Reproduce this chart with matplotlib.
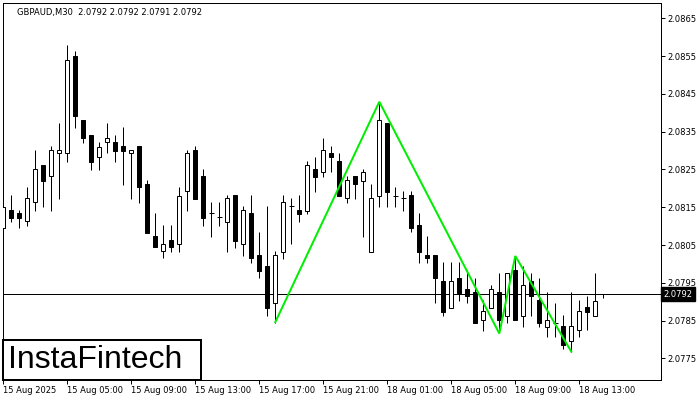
import matplotlib
matplotlib.use('Agg')
import matplotlib.pyplot as plt
from matplotlib.patches import Rectangle
import matplotlib.transforms as mtransforms

# ---------------- data ----------------
opens = [2.08094, 2.08143, 2.08134, 2.08113, 2.08163, 2.08262, 2.08232, 2.08293, 2.08293, 2.08550,
         2.08381, 2.08341, 2.08282, 2.08322, 2.08322, 2.08312, 2.08293, 2.08312, 2.08211, 2.08074,
         2.08034, 2.08062, 2.08054, 2.08192, 2.08301, 2.08233, 2.08134, 2.08123, 2.08112, 2.08182,
         2.08054, 2.08134, 2.08023, 2.07994, 2.07896, 2.08032, 2.08153, 2.08143, 2.08141, 2.08251,
         2.08242, 2.08293, 2.08272, 2.08174, 2.08233, 2.08220, 2.08032, 2.08180, 2.08372, 2.08181,
         2.08174, 2.08182, 2.08103, 2.08023, 2.08023, 2.07955, 2.07884, 2.07964, 2.07935, 2.07925,
         2.07853, 2.07884, 2.07925, 2.07863, 2.07984, 2.07863, 2.07955, 2.07904, 2.07834, 2.07845,
         2.07836, 2.07796, 2.07825, 2.07885, 2.07863, 2.0792]
highs = [2.08174, 2.08182, 2.08143, 2.08203, 2.08301, 2.08262, 2.08312, 2.08372, 2.08579, 2.08562,
         2.08381, 2.08341, 2.08323, 2.08372, 2.08341, 2.08362, 2.08301, 2.08312, 2.08222, 2.08134,
         2.08103, 2.08103, 2.08203, 2.08301, 2.08312, 2.08250, 2.08165, 2.08165, 2.08182, 2.08182,
         2.08153, 2.08182, 2.08085, 2.08153, 2.08034, 2.08182, 2.08174, 2.08182, 2.08272, 2.08282,
         2.08332, 2.08312, 2.08293, 2.08233, 2.08233, 2.08251, 2.08211, 2.08429, 2.08372, 2.08203,
         2.08193, 2.08193, 2.08134, 2.08074, 2.08023, 2.08004, 2.08004, 2.08004, 2.07984, 2.07964,
         2.07904, 2.07944, 2.07975, 2.07975, 2.08022, 2.07994, 2.07975, 2.07964, 2.07925, 2.07896,
         2.07865, 2.07925, 2.07904, 2.07915, 2.07975, 2.0792]
lows = [2.08072, 2.08112, 2.08094, 2.08101, 2.08141, 2.08151, 2.08141, 2.08172, 2.08270, 2.08360,
        2.08321, 2.08248, 2.08248, 2.08293, 2.08270, 2.08209, 2.08172, 2.08162, 2.08083, 2.08044,
        2.08015, 2.08032, 2.08032, 2.08141, 2.08172, 2.08101, 2.08072, 2.08101, 2.08032, 2.08043,
        2.08022, 2.08003, 2.07963, 2.07862, 2.07845, 2.08013, 2.08053, 2.08112, 2.08132, 2.08191,
        2.08231, 2.08242, 2.08180, 2.08162, 2.08172, 2.08072, 2.08032, 2.08151, 2.08151, 2.08151,
        2.08141, 2.08084, 2.08003, 2.08003, 2.07896, 2.07863, 2.07884, 2.07902, 2.07896, 2.07845,
        2.07823, 2.07884, 2.07823, 2.07845, 2.07853, 2.07834, 2.07863, 2.07834, 2.07806, 2.07806,
        2.07774, 2.07768, 2.07806, 2.07825, 2.07863, 2.0791]
closes = [2.08151, 2.08122, 2.08122, 2.08174, 2.08250, 2.08220, 2.08301, 2.08301, 2.08540, 2.08390,
          2.08332, 2.08270, 2.08310, 2.08332, 2.08300, 2.08300, 2.08301, 2.08203, 2.08083, 2.08044,
          2.08054, 2.08044, 2.08181, 2.08293, 2.08172, 2.08122, 2.08134, 2.08123, 2.08174, 2.08061,
          2.08143, 2.08015, 2.07982, 2.07884, 2.08023, 2.08163, 2.08153, 2.08133, 2.08262, 2.08231,
          2.08301, 2.08282, 2.08180, 2.08222, 2.08211, 2.08242, 2.08174, 2.08380, 2.08191, 2.08181,
          2.08174, 2.08094, 2.08032, 2.08015, 2.07963, 2.07873, 2.07955, 2.07924, 2.07916, 2.07845,
          2.07875, 2.07935, 2.07853, 2.07975, 2.07853, 2.07944, 2.07915, 2.07845, 2.07853, 2.07845,
          2.07785, 2.07836, 2.07875, 2.07873, 2.07902, 2.0792]

pattern_bars = [34, 47, 62, 64, 71]
pattern_prices = [2.07846, 2.08429, 2.07816, 2.08021, 2.07768]

x_tick_labels = ['15 Aug 2025', '15 Aug 05:00', '15 Aug 09:00', '15 Aug 13:00', '15 Aug 17:00',
                 '15 Aug 21:00', '18 Aug 01:00', '18 Aug 05:00', '18 Aug 09:00', '18 Aug 13:00']
x_tick_step = 8
y_ticks = [2.0775, 2.0785, 2.0795, 2.0805, 2.0815, 2.0825, 2.0835, 2.0845, 2.0855, 2.0865]
current_price = 2.0792
title = 'GBPAUD,M30  2.0792 2.0792 2.0791 2.0792'
logo = 'InstaFintech'

# ---------------- figure ----------------
W, H = 700, 400
PX = 72 / 100  # one pixel in points
fig = plt.figure(figsize=(7, 4), dpi=100)
fig.patch.set_facecolor('white')
ax = fig.add_axes([2.7 / W, 20 / H, 658 / W, 377.3 / H])
ax.set_facecolor('white')

for i in range(len(opens)):
    o, h, l, c = opens[i], highs[i], lows[i], closes[i]
    ax.vlines(i, l, h, color='black', lw=PX, zorder=2)
    if abs(c - o) < 1e-9:
        ax.hlines(o, i - 0.3, i + 0.3, color='black', lw=PX, zorder=3)
    else:
        fc = 'white' if c > o else 'black'
        ax.add_patch(Rectangle((i - 0.25, min(o, c)), 0.5, abs(c - o),
                               facecolor=fc, edgecolor='black', lw=PX, zorder=3))

ax.axhline(current_price, color='black', lw=PX, zorder=1.5)
ax.plot(pattern_bars, pattern_prices, color='#00ee00', lw=2 * PX, zorder=4,
        solid_joinstyle='miter')

ax.set_xlim(-0.075, 82.175)
ax.set_ylim(2.07693, 2.08691)

ax.yaxis.tick_right()
ax.set_yticks(y_ticks)
ax.set_yticklabels(['%.4f' % v for v in y_ticks])
ax.set_xticks([k * x_tick_step for k in range(len(x_tick_labels))])
ax.set_xticklabels(x_tick_labels, ha='left')
ax.tick_params(axis='both', direction='out', length=3, width=PX, colors='black',
               labelsize=6, pad=2)
ax.tick_params(axis='x', pad=1.5)
for s in ax.spines.values():
    s.set_color('black')
    s.set_linewidth(PX)

# current price box
trans = mtransforms.blended_transform_factory(ax.transAxes, ax.transData)
ax.annotate('%.4f' % current_price, xy=(1.0, current_price), xycoords=trans,
            xytext=(1.8, 0), textcoords='offset points', ha='left', va='center',
            fontsize=6, color='white', annotation_clip=False,
            bbox=dict(boxstyle='square,pad=0.3', fc='black', ec='black'))

# title
fig.text(17 / W, 1 - 13 / H, title, fontsize=6, va='center', ha='left', color='black')

# logo
fig.patches.append(Rectangle((2.7 / W, 20 / H), 198 / W, 40 / H, transform=fig.transFigure,
                             facecolor='white', edgecolor='black', lw=2 * PX, zorder=10))
fig.text(8 / W, 1 - 360 / H, logo, fontsize=23, family='Liberation Sans', va='center',
         ha='left', color='black', zorder=11)

fig.savefig('out.png', dpi=100, facecolor='white')
